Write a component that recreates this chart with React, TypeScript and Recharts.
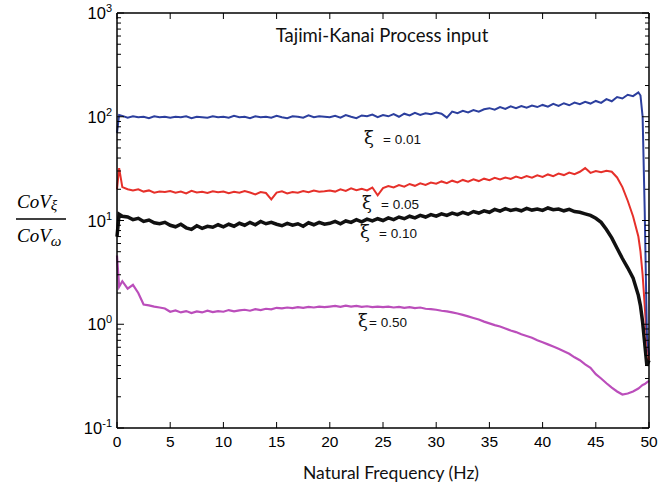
import React from 'react';
import { LineChart, Line, XAxis, YAxis } from 'recharts';

// natural frequency (Hz)
const freq = [
  0, 0.2, 0.5, 1, 1.5, 2, 2.5, 3, 3.5, 4, 4.5,
  5, 5.5, 6, 6.5, 7, 7.5, 8, 8.5, 9, 9.5,
  10, 10.5, 11, 11.5, 12, 12.5, 13, 13.5, 14, 14.5,
  15, 15.5, 16, 16.5, 17, 17.5, 18, 18.5, 19, 19.5,
  20, 20.5, 21, 21.5, 22, 22.5, 23, 23.5, 24, 24.5,
  25, 25.5, 26, 26.5, 27, 27.5, 28, 28.5, 29, 29.5,
  30, 30.5, 31, 31.5, 32, 32.5, 33, 33.5, 34, 34.5,
  35, 35.5, 36, 36.5, 37, 37.5, 38, 38.5, 39, 39.5,
  40, 40.5, 41, 41.5, 42, 42.5, 43, 43.5, 44, 44.5,
  45, 45.5, 46, 46.5, 47, 47.5, 48, 48.5,
  49, 49.2, 49.4, 49.6, 49.8, 50,
];

// CoV ratio, xi = 0.01
const xi001 = [
  70, 104, 102, 98, 101, 99, 100, 97, 101, 99, 100,
  98, 100, 99, 101, 97, 100, 99, 98, 101, 99,
  100, 98, 102, 99, 100, 97, 101, 99, 100, 98,
  102, 99, 97, 101, 100, 98, 103, 99, 101, 100,
  99, 102, 98, 104, 100, 97, 103, 101, 105, 99,
  104, 101, 106, 100, 107, 103, 109, 104, 108, 106,
  110, 107, 98, 112, 108, 114, 110, 116, 112, 118,
  121, 117, 124, 119, 126, 121, 127, 122, 128, 124,
  130, 125, 133, 127, 135, 129, 137, 132, 139, 134,
  142, 136, 148, 141, 155, 150, 163, 158,
  172, 160, 100, 12, 0.8, 0.5,
];

// xi = 0.05
const xi005 = [
  20, 32, 21, 20, 19.5, 20, 19, 19.5, 18.5, 19, 18.8,
  19.2, 18.5, 19, 18.2, 19.3, 18.6, 18.9, 18.4, 19.1, 18.7,
  19, 18.3, 18.9, 18.5, 19.2, 18.6, 17.8, 18.8, 18.4, 16,
  18.6, 19.1, 18.2, 18.8, 18.5, 19.2, 18.7, 19.4, 18.9, 19.1,
  19.5, 19, 20, 19.3, 20.4, 19.6, 20.2, 19.5, 20.8, 17.5,
  20.5, 21.5, 20.8, 22, 21.2, 22.5, 21.6, 22.8, 22, 23.2,
  22.6, 23.8, 22.9, 24.2, 23.3, 24.6, 23.7, 25, 24, 25.3,
  24.5, 25.8, 24.9, 26, 25.2, 26.5, 25.6, 26.8, 25.9, 27.2,
  26.3, 27.8, 26.8, 28.3, 27.4, 29, 28, 29.5, 32, 28.8,
  30, 29.2, 30.2, 29.5, 26, 21, 15.5, 11,
  7, 5, 3, 1.5, 0.7, 0.45,
];

// xi = 0.10
const xi010 = [
  7, 11.5, 11, 10.8, 10.2, 10.5, 9.8, 10.1, 9.5, 9.3, 9.6,
  9, 8.7, 9.2, 8.5, 8.2, 8.9, 8.4, 8.8, 8.6, 9.1,
  8.7, 9.2, 8.8, 9.4, 9, 9.6, 9.1, 9.8, 9.3, 9.6,
  9.2, 8.9, 9.4, 9, 9.3, 8.8, 9.5, 9.1, 9.6, 9.2,
  9.4, 9.8, 9.3, 9.9, 9.6, 10.2, 9.7, 10.3, 9.9, 10.4,
  10, 10.6, 10.2, 10.8, 10.4, 11, 10.6, 11.2, 10.8, 11.4,
  11, 11.6, 11.2, 11.8, 11.4, 12, 11.5, 12.2, 11.8, 12.4,
  12, 12.8, 12.3, 13, 12.5, 12.8, 12.4, 13.1, 12.6, 12.9,
  12.5, 13.2, 12.7, 12.9, 12.4, 12.8, 12.2, 12, 11.6, 11.2,
  10.5, 9.6, 8.2, 6.8, 5.4, 4.3, 3.5, 2.8,
  1.9, 1.5, 1.05, 0.65, 0.4, 0.45,
];

// xi = 0.50
const xi050 = [
  4.6, 2.3, 2.6, 2.2, 2.4, 2.0, 1.55, 1.52, 1.48, 1.45, 1.42,
  1.32, 1.36, 1.3, 1.34, 1.28, 1.33, 1.3, 1.35, 1.31, 1.34,
  1.32, 1.37, 1.33, 1.36, 1.38, 1.35, 1.4, 1.37, 1.41, 1.39,
  1.44, 1.42, 1.45, 1.43, 1.46, 1.44, 1.47, 1.45, 1.48, 1.46,
  1.48, 1.5, 1.47, 1.51, 1.48, 1.5, 1.47, 1.49, 1.46, 1.48,
  1.46, 1.48, 1.45, 1.47, 1.44, 1.46, 1.43, 1.45, 1.41, 1.4,
  1.38, 1.35, 1.33, 1.3, 1.27, 1.23, 1.19, 1.15, 1.11, 1.06,
  1.02, 0.98, 0.95, 0.91, 0.87, 0.84, 0.8, 0.77, 0.74, 0.7,
  0.67, 0.64, 0.61, 0.58, 0.55, 0.52, 0.48, 0.45, 0.41, 0.38,
  0.33, 0.3, 0.27, 0.245, 0.225, 0.21, 0.215, 0.225,
  0.24, 0.25, 0.26, 0.265, 0.275, 0.285,
];

const xTicks = [0, 5, 10, 15, 20, 25, 30, 35, 40, 45, 50];
const yMajor = [0.1, 1, 10, 100, 1000];
const yTicks = [
  0.1, 0.2, 0.3, 0.4, 0.5, 0.6, 0.7, 0.8, 0.9,
  1, 2, 3, 4, 5, 6, 7, 8, 9,
  10, 20, 30, 40, 50, 60, 70, 80, 90,
  100, 200, 300, 400, 500, 600, 700, 800, 900,
  1000,
];

const data = freq.map((f, i) => ({
  f,
  a: xi001[i],
  b: xi005[i],
  c: xi010[i],
  d: xi050[i],
}));

const sans = 'Liberation Sans, Arial, sans-serif';
const serif = 'Liberation Serif, Times New Roman, serif';
const greek = 'DejaVu Serif, serif';

const BottomTick = ({ x, y, payload }: any) => (
  <g>
    <line x1={x} y1={y} x2={x} y2={y - 6} stroke="#000" strokeWidth={1} />
    <text x={x} y={y + 19} textAnchor="middle" fontSize={15.5} fontFamily={sans} fill="#000">
      {payload.value}
    </text>
  </g>
);

const TopTick = ({ x, y }: any) => (
  <line x1={x} y1={y} x2={x} y2={y + 6} stroke="#000" strokeWidth={1} />
);

const LeftTick = ({ x, y, payload }: any) => {
  const v = payload.value;
  const major = yMajor.includes(v);
  const exp = Math.round(Math.log10(v));
  return (
    <g>
      <line x1={x} y1={y} x2={x + (major ? 7 : 4)} y2={y} stroke="#000" strokeWidth={1} />
      {major && (
        <text x={x - 5} y={y + 6} textAnchor="end" fontSize={16.5} fontFamily={sans} fill="#000">
          10
          <tspan dy={-7} fontSize={11}>
            {exp}
          </tspan>
        </text>
      )}
    </g>
  );
};

const RightTick = ({ x, y, payload }: any) => {
  const major = yMajor.includes(payload.value);
  return <line x1={x} y1={y} x2={x - (major ? 7 : 4)} y2={y} stroke="#000" strokeWidth={1} />;
};

const axisStyle = { stroke: '#000', strokeWidth: 1.5 };

export default function App() {
  return (
    <div style={{ position: 'absolute', left: 0, top: 0, width: 667, height: 490, background: '#fff' }}>
      <LineChart width={667} height={490} data={data} margin={{ top: 0, right: 0, bottom: 0, left: 0 }}>
        <XAxis
          dataKey="f"
          type="number"
          domain={[0, 50]}
          ticks={xTicks}
          interval={0}
          height={62}
          tickSize={0}
          tickMargin={0}
          tickLine={false}
          axisLine={axisStyle}
          tick={<BottomTick />}
        />
        <XAxis
          xAxisId="top"
          orientation="top"
          dataKey="f"
          type="number"
          domain={[0, 50]}
          ticks={xTicks}
          interval={0}
          height={13}
          tickSize={0}
          tickMargin={0}
          tickLine={false}
          axisLine={axisStyle}
          tick={<TopTick />}
        />
        <YAxis
          type="number"
          scale="log"
          domain={[0.1, 1000]}
          allowDataOverflow
          ticks={yTicks}
          interval={0}
          width={117}
          tickSize={0}
          tickMargin={0}
          tickLine={false}
          axisLine={axisStyle}
          tick={<LeftTick />}
        />
        <YAxis
          yAxisId="right"
          orientation="right"
          type="number"
          scale="log"
          domain={[0.1, 1000]}
          allowDataOverflow
          ticks={yTicks}
          interval={0}
          width={18}
          tickSize={0}
          tickMargin={0}
          tickLine={false}
          axisLine={axisStyle}
          tick={<RightTick />}
        />
        <Line dataKey="d" stroke="#bb4ebb" strokeWidth={2.2} dot={false} isAnimationActive={false} />
        <Line dataKey="c" stroke="#111111" strokeWidth={3.5} dot={false} isAnimationActive={false} />
        <Line dataKey="b" stroke="#e6302a" strokeWidth={2} dot={false} isAnimationActive={false} />
        <Line dataKey="a" stroke="#2c3f9e" strokeWidth={2} dot={false} isAnimationActive={false} />
      </LineChart>
      <svg
        width={667}
        height={490}
        style={{ position: 'absolute', left: 0, top: 0, pointerEvents: 'none' }}
      >
        <text x={382} y={42} textAnchor="middle" fontSize={18.5} fontFamily="Lato, sans-serif" fill="#111">
          Tajimi-Kanai Process input
        </text>
        <text x={391} y={479} textAnchor="middle" fontSize={17.5} fontFamily="Lato, sans-serif" fill="#111">
          Natural Frequency (Hz)
        </text>
        <text x={17} y={208} fontSize={19} fontStyle="italic" fontFamily={serif} fill="#000">
          CoV
          <tspan fontSize={15} dy={2}>ξ</tspan>
        </text>
        <line x1={16} y1={219} x2={66} y2={219} stroke="#000" strokeWidth={1.5} />
        <text x={17} y={242} fontSize={19} fontStyle="italic" fontFamily={serif} fill="#000">
          CoV
          <tspan fontSize={15} dy={4}>ω</tspan>
        </text>
        <text x={364} y={144} fontSize={18} fontFamily={greek} fill="#111">ξ</text>
        <text x={383} y={144} fontSize={13.5} fontFamily={sans} fill="#111">= 0.01</text>
        <text x={362} y={209} fontSize={18} fontFamily={greek} fill="#111">ξ</text>
        <text x={381} y={209} fontSize={13.5} fontFamily={sans} fill="#111">= 0.05</text>
        <text x={360} y={238} fontSize={18} fontFamily={greek} fill="#111">ξ</text>
        <text x={379} y={238} fontSize={13.5} fontFamily={sans} fill="#111">= 0.10</text>
        <text x={358} y={327} fontSize={18} fontFamily={greek} fill="#111">ξ</text>
        <text x={369} y={327} fontSize={13.5} fontFamily={sans} fill="#111">= 0.50</text>
      </svg>
    </div>
  );
}
